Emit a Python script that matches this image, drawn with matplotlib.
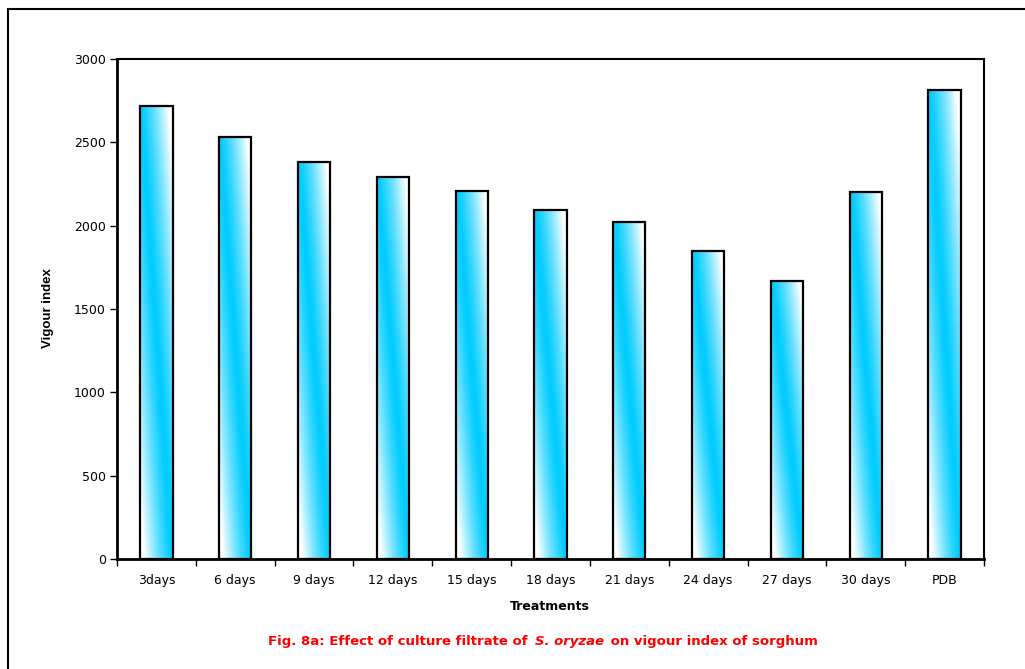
import numpy as np
import matplotlib
matplotlib.use("Agg")
import matplotlib.pyplot as plt
from matplotlib.patches import Rectangle

plt.rcParams['font.family'] = ['DejaVu Sans']

# data
treatments = ['3days', '6 days', '9 days', '12 days', '15 days', '18 days',
              '21 days', '24 days', '27 days', '30 days', 'PDB']
vigour = [2720, 2535, 2380, 2290, 2210, 2095, 2025, 1848, 1668, 2205, 2812]
y_ticks = [0, 500, 1000, 1500, 2000, 2500, 3000]

cyan = np.array([0, 204, 255]) / 255.0
white = np.array([1.0, 1.0, 1.0])

fig = plt.figure(figsize=(10.25, 6.69), dpi=100)
W, H = 1025, 669
ax = fig.add_axes([117 / W, 1 - 559 / H, (984 - 117) / W, (559 - 59) / H])

x = np.arange(len(treatments))
bw = 0.41
bars = ax.bar(x, vigour, width=bw, facecolor='none', edgecolor='black',
              linewidth=1.6, zorder=3)

# diagonal gradient: cyan band from top-left to bottom-right
rows, cols = 200, 40
v = np.linspace(0, 1, rows)[:, None]
u = np.linspace(0, 1, cols)[None, :]
t = np.clip(np.abs(u - v) * 1.15, 0, 1) ** 1.3
grad = cyan * (1 - t[..., None]) + white * t[..., None]

for b in bars:
    x0 = b.get_x()
    h = b.get_height()
    im = ax.imshow(grad, extent=(x0, x0 + bw, 0, h), origin='upper',
                   aspect='auto', zorder=2, interpolation='bilinear')
    im.set_clip_path(b)

ax.set_xlim(-0.5, len(treatments) - 0.5)
ax.set_ylim(0, 3000)
ax.set_yticks(y_ticks)
ax.set_yticklabels([str(v) for v in y_ticks], fontsize=9)
ax.set_xticks(x)
ax.set_xticklabels(treatments, fontsize=9)
ax.tick_params(axis='x', which='major', length=0, pad=10.5)
ax.set_xticks(np.arange(len(treatments) + 1) - 0.5, minor=True)
ax.tick_params(axis='x', which='minor', length=5, width=1, direction='out')
ax.tick_params(axis='y', length=5, width=1, direction='out', pad=3)

for s in ax.spines.values():
    s.set_linewidth(1.5)
ax.spines['left'].set_linewidth(2)
ax.spines['bottom'].set_linewidth(2)

fig.text(48 / W, 1 - 308 / H, 'Vigour index', rotation=90, fontsize=9.5,
         fontweight='bold', family='Liberation Sans', ha='center', va='center')
fig.text(550 / W, 1 - 607 / H, 'Treatments', fontsize=9, fontweight='bold',
         ha='center', va='center')

# outer frame (only top and left edges visible)
fig.patches.append(Rectangle((8 / W, -0.05), 1.2, 1 - 9 / H + 0.05,
                             transform=fig.transFigure, fill=False,
                             edgecolor='black', linewidth=1.5))

# caption with italic species name
parts = [('Fig. 8a: Effect of culture filtrate of ', 'normal'),
         ('S. oryzae', 'oblique'),
         (' on vigour index of sorghum', 'normal')]
cy = 1 - 641 / H
texts = [fig.text(0, cy, s, fontsize=9.5, fontweight='bold', style=st,
                  color='#ff0000', va='center', ha='left') for s, st in parts]
fig.canvas.draw()
r = fig.canvas.get_renderer()
widths = [tx.get_window_extent(r).width / W for tx in texts]
gap = 2 / W
total = sum(widths) + 2 * gap
xs = 543 / W - total / 2
for tx, w in zip(texts, widths):
    tx.set_x(xs)
    xs += w + gap

fig.savefig('out.png', dpi=100)
